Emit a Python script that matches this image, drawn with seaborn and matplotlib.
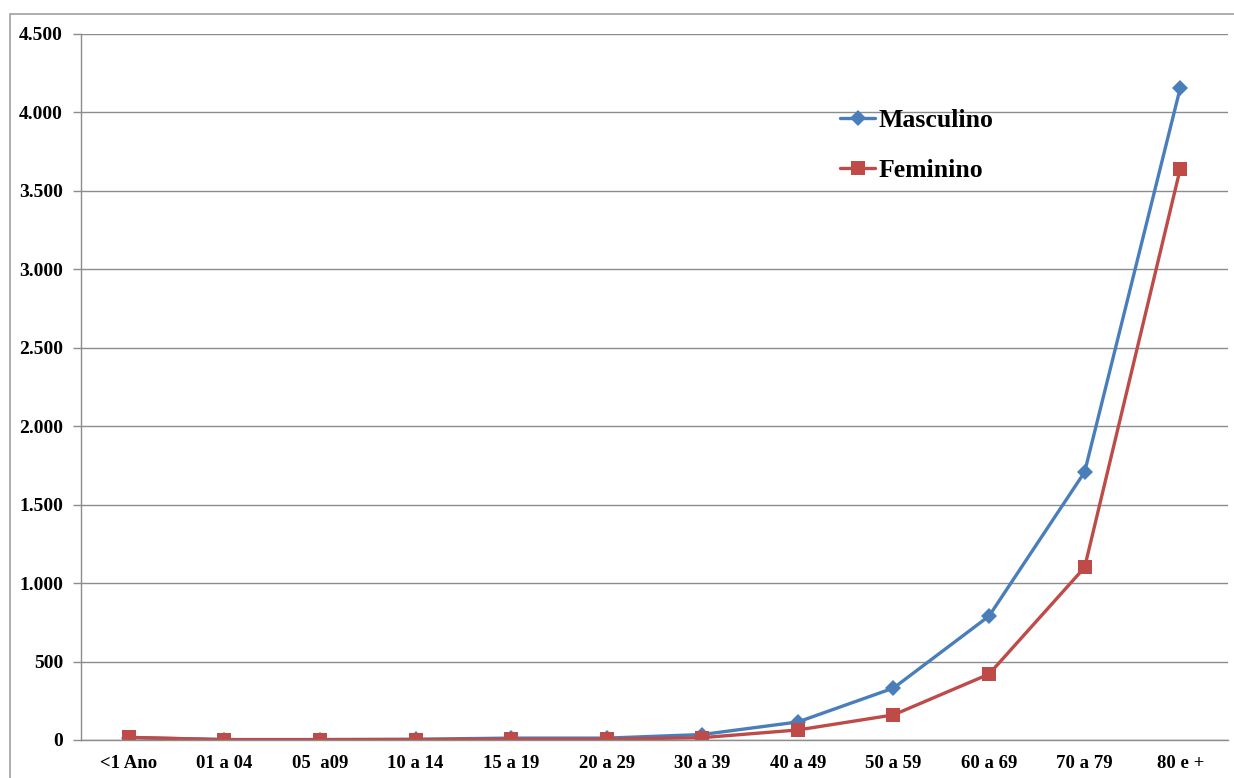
import matplotlib
matplotlib.use("Agg")
import matplotlib.pyplot as plt
import matplotlib.ticker as mticker
from matplotlib.patches import Rectangle
import numpy as np
import pandas as pd
import seaborn as sns

# Age groups and values per sex
faixas = ["<1 Ano", "01 a 04", "05  a09", "10 a 14", "15 a 19", "20 a 29",
          "30 a 39", "40 a 49", "50 a 59", "60 a 69", "70 a 79", "80 e +"]
masculino = [15, 3, 3, 5, 12, 12, 35, 115, 331, 790, 1708, 4155]
feminino = [17, 2, 2, 2, 5, 5, 15, 64, 160, 420, 1100, 3640]
series_names = ["Masculino", "Feminino"]
y_ticks = [0, 500, 1000, 1500, 2000, 2500, 3000, 3500, 4000, 4500]

df = pd.DataFrame({
    "faixa": faixas * 2,
    "pos": list(range(len(faixas))) * 2,
    "valor": masculino + feminino,
    "sexo": [series_names[0]] * len(faixas) + [series_names[1]] * len(faixas),
})

sns.set_theme(style="white")
plt.rcParams["font.family"] = ["Liberation Serif", "DejaVu Serif"]
plt.rcParams["font.weight"] = "bold"
plt.rcParams["text.color"] = "black"

W, H = 1234, 778
fig = plt.figure(figsize=(W / 100, H / 100), dpi=100)
fig.patch.set_facecolor("white")

# Outer frame of the chart area
fig.add_artist(Rectangle((10 / W, -0.01), 1.0, 1 - 14 / H + 0.01,
                         transform=fig.transFigure, fill=False,
                         edgecolor="#a0a0a0", linewidth=1.2))

left, right, top, bottom = 81 / W, 1228 / W, 1 - 34 / H, 1 - 740 / H
ax = fig.add_axes([left, bottom, right - left, top - bottom])

palette = {"Masculino": "#4a7ebb", "Feminino": "#be4b48"}
markers = {"Masculino": "D", "Feminino": "s"}
msize = {"D": 8, "s": 9.5}
sns.lineplot(data=df, x="pos", y="valor", hue="sexo", style="sexo",
             palette=palette, markers=markers, dashes=False,
             linewidth=2.4, markersize=8, markeredgewidth=0,
             ax=ax, legend=False)
for line in ax.get_lines():
    line.set_markersize(msize.get(line.get_marker(), 8))

ax.set_xlim(-0.5, len(faixas) - 0.5)
ax.set_ylim(0, 4500)
ax.set_xlabel("")
ax.set_ylabel("")

ax.set_yticks(y_ticks)
ax.yaxis.set_major_formatter(mticker.FuncFormatter(
    lambda v, p: f"{int(v):,}".replace(",", ".")))
ax.grid(axis="y", color="#8c8c8c", linewidth=1.0)
ax.set_axisbelow(True)

ax.set_xticks(range(len(faixas)))
ax.set_xticklabels(faixas)
ax.set_xticks(np.arange(-0.5, len(faixas), 1.0), minor=True)
ax.tick_params(axis="x", which="major", length=0, pad=11, labelsize=13.5)
ax.tick_params(axis="x", which="minor", length=6, color="#8c8c8c", width=1)
ax.tick_params(axis="y", which="major", length=6, color="#8c8c8c", width=1,
               pad=7, labelsize=14, left=True)
for lab in ax.get_xticklabels() + ax.get_yticklabels():
    lab.set_fontweight("bold")
    lab.set_color("black")

for side in ["top", "right"]:
    ax.spines[side].set_visible(False)
for side in ["left", "bottom"]:
    ax.spines[side].set_color("#8c8c8c")
    ax.spines[side].set_linewidth(1.0)

# Legend
handles = [plt.Line2D([], [], color=palette[n], marker=markers[n], linewidth=2.4,
                      markersize=msize[markers[n]], markeredgewidth=0)
           for n in series_names]
leg = ax.legend(handles, series_names, loc="upper left",
                bbox_to_anchor=((817 - 81) / (1228 - 81), (740 - 86) / 706),
                frameon=False, handlelength=1.36, handletextpad=0.12,
                labelspacing=1.05, prop={"size": 18.5, "weight": "bold"})
for t in leg.get_texts():
    t.set_color("black")

fig.savefig("out.png", dpi=100, facecolor="white")
